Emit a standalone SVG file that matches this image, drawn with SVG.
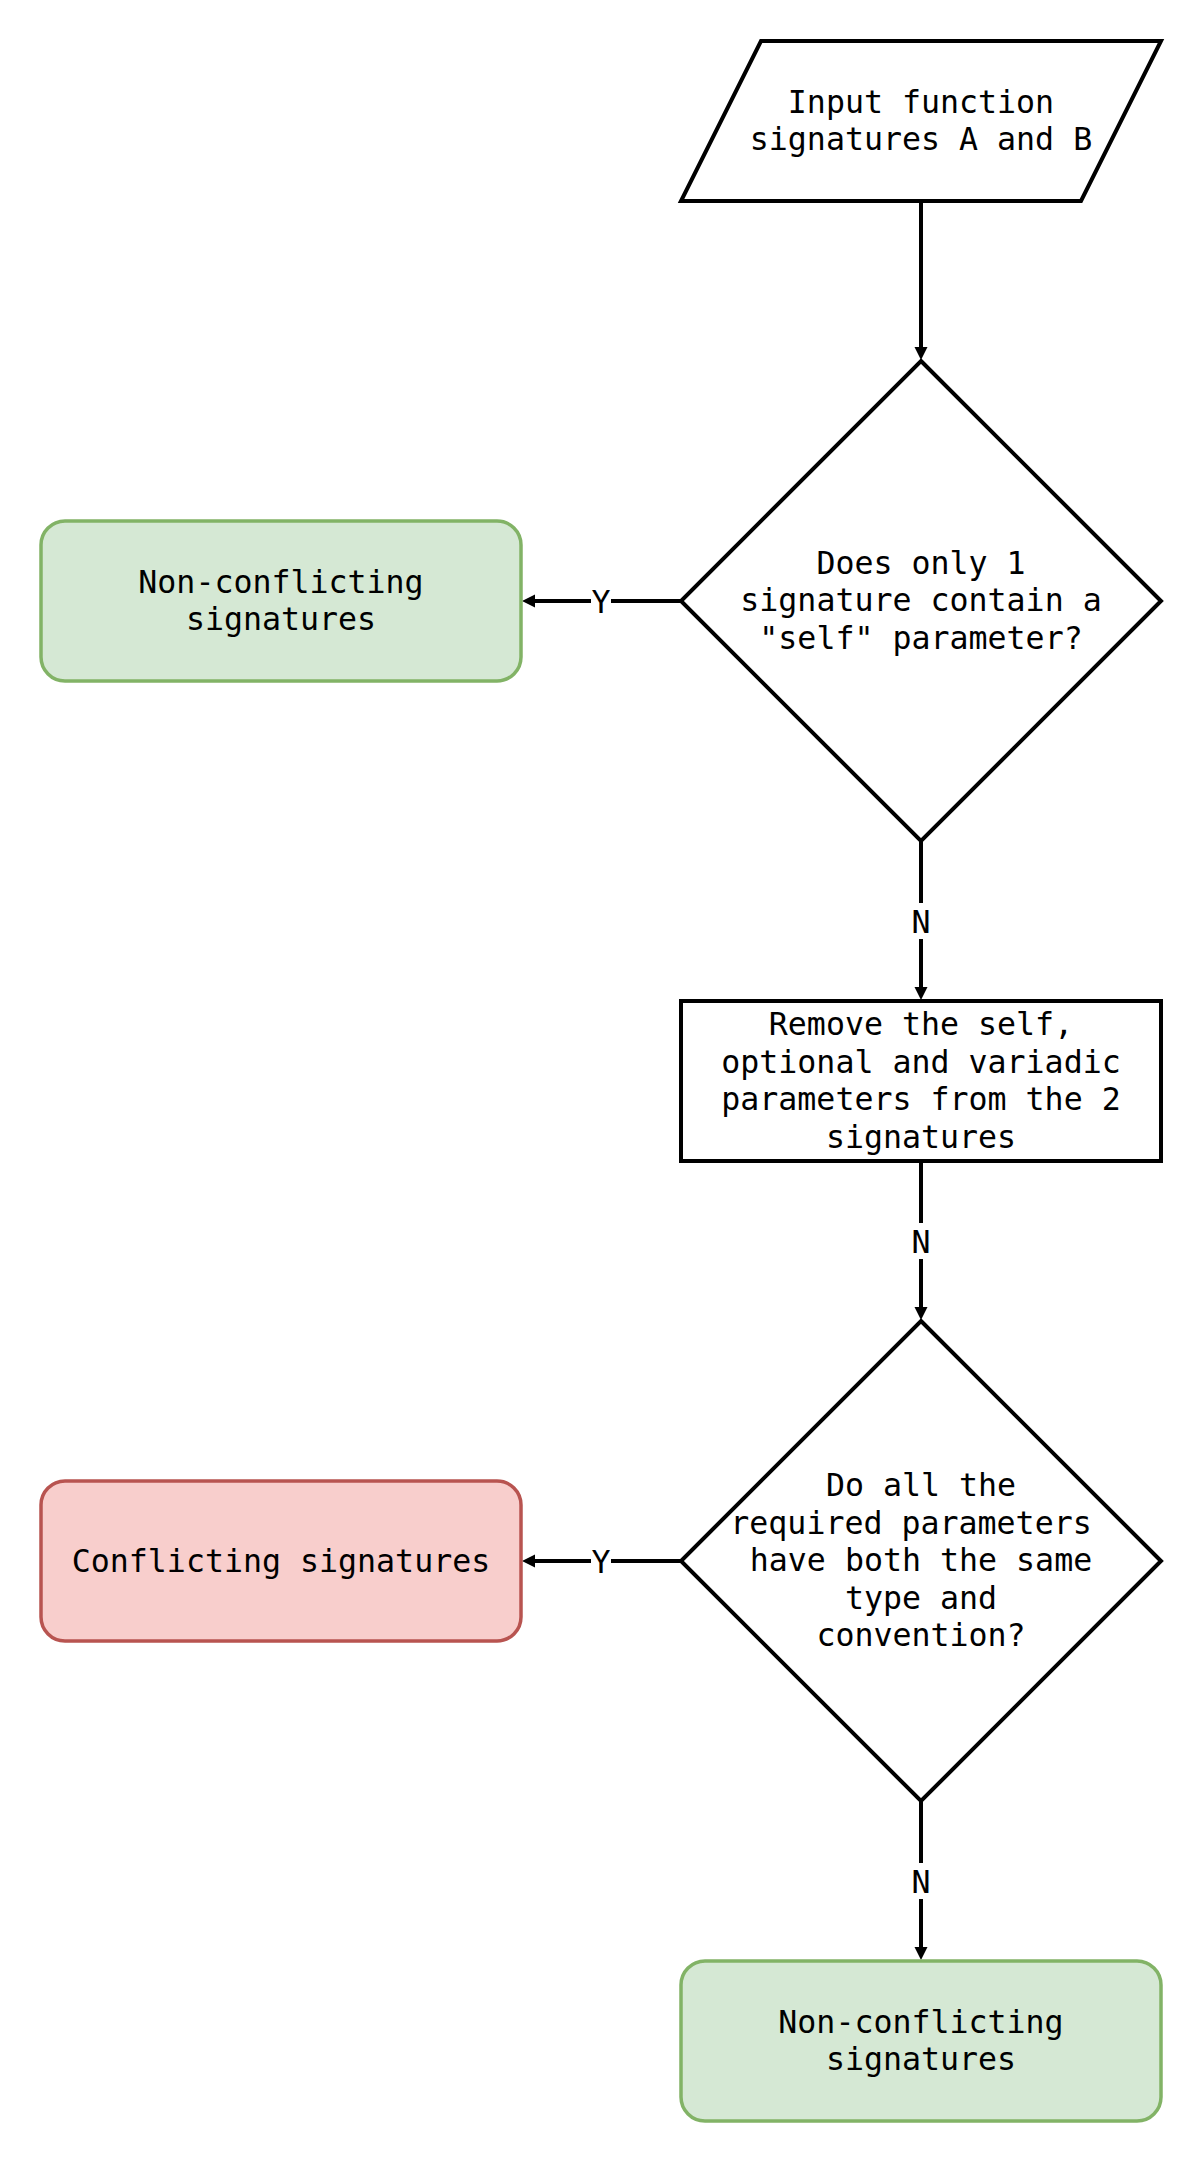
<svg xmlns="http://www.w3.org/2000/svg" width="1204" height="2164" viewBox="0 0 1204 2164">
  <defs>
    <style>
      .shape { fill: #ffffff; stroke: #000000; stroke-width: 4; }
      .green { fill: #d5e8d4; stroke: #82b366; stroke-width: 3.5; }
      .red { fill: #f8cecc; stroke: #b85450; stroke-width: 3.5; }
      .txt { font-family: "DejaVu Sans Mono", "Liberation Mono", monospace; font-size: 31.6px; fill: #000000; text-anchor: middle; }
      .edge { fill: none; stroke: #000000; stroke-width: 4; marker-end: url(#arrow); }
      .lblbg { fill: #ffffff; stroke: none; }
    </style>
    <marker id="arrow" markerUnits="userSpaceOnUse" markerWidth="14" markerHeight="14" viewBox="0 0 14 14" refX="0" refY="7" orient="auto">
      <path d="M0,0.5 L13,7 L0,13.5 Z" fill="#000000"/>
    </marker>
  </defs>

  <g id="connectors">
    <path class="edge" d="M921,201 L921,347"/>
    <path class="edge" d="M681,601 L535,601"/>
    <path class="edge" d="M921,841 L921,987"/>
    <path class="edge" d="M921,1161 L921,1307"/>
    <path class="edge" d="M681,1561 L535,1561"/>
    <path class="edge" d="M921,1801 L921,1947"/>
    <g id="edge-labels">
      <rect class="lblbg" x="591" y="583" width="20" height="36"/>
      <text class="txt" x="601" y="612.5">Y</text>
      <rect class="lblbg" x="911" y="903" width="20" height="36"/>
      <text class="txt" x="921" y="932.5">N</text>
      <rect class="lblbg" x="911" y="1223" width="20" height="36"/>
      <text class="txt" x="921" y="1252.5">N</text>
      <rect class="lblbg" x="591" y="1543" width="20" height="36"/>
      <text class="txt" x="601" y="1572.5">Y</text>
      <rect class="lblbg" x="911" y="1863" width="20" height="36"/>
      <text class="txt" x="921" y="1892.5">N</text>
    </g>
  </g>

  <g id="input">
    <polygon class="shape" points="761,41 1161,41 1081,201 681,201"/>
    <text class="txt" x="921" y="112.5">Input function</text>
    <text class="txt" x="921" y="150">signatures A and B</text>
  </g>

  <g id="decision-self">
    <polygon class="shape" points="921,361 1161,601 921,841 681,601"/>
    <text class="txt" x="921" y="573.5">Does only 1</text>
    <text class="txt" x="921" y="611">signature contain a</text>
    <text class="txt" x="921" y="648.5">"self" parameter?</text>
  </g>

  <g id="nonconflicting-1">
    <rect class="green" x="41" y="521" width="480" height="160" rx="24" ry="24"/>
    <text class="txt" x="281" y="592.5">Non-conflicting</text>
    <text class="txt" x="281" y="630">signatures</text>
  </g>

  <g id="remove">
    <rect class="shape" x="681" y="1001" width="480" height="160"/>
    <text class="txt" x="921" y="1035">Remove the self,</text>
    <text class="txt" x="921" y="1072.5">optional and variadic</text>
    <text class="txt" x="921" y="1110">parameters from the 2</text>
    <text class="txt" x="921" y="1147.5">signatures</text>
  </g>

  <g id="decision-params">
    <polygon class="shape" points="921,1321 1161,1561 921,1801 681,1561"/>
    <text class="txt" x="921" y="1496">Do all the</text>
    <text class="txt" x="911" y="1533.5">required parameters</text>
    <text class="txt" x="921" y="1571">have both the same</text>
    <text class="txt" x="921" y="1608.5">type and</text>
    <text class="txt" x="921" y="1646">convention?</text>
  </g>

  <g id="conflicting">
    <rect class="red" x="41" y="1481" width="480" height="160" rx="24" ry="24"/>
    <text class="txt" x="281" y="1572">Conflicting signatures</text>
  </g>

  <g id="nonconflicting-2">
    <rect class="green" x="681" y="1961" width="480" height="160" rx="24" ry="24"/>
    <text class="txt" x="921" y="2032.5">Non-conflicting</text>
    <text class="txt" x="921" y="2070">signatures</text>
  </g>
</svg>
